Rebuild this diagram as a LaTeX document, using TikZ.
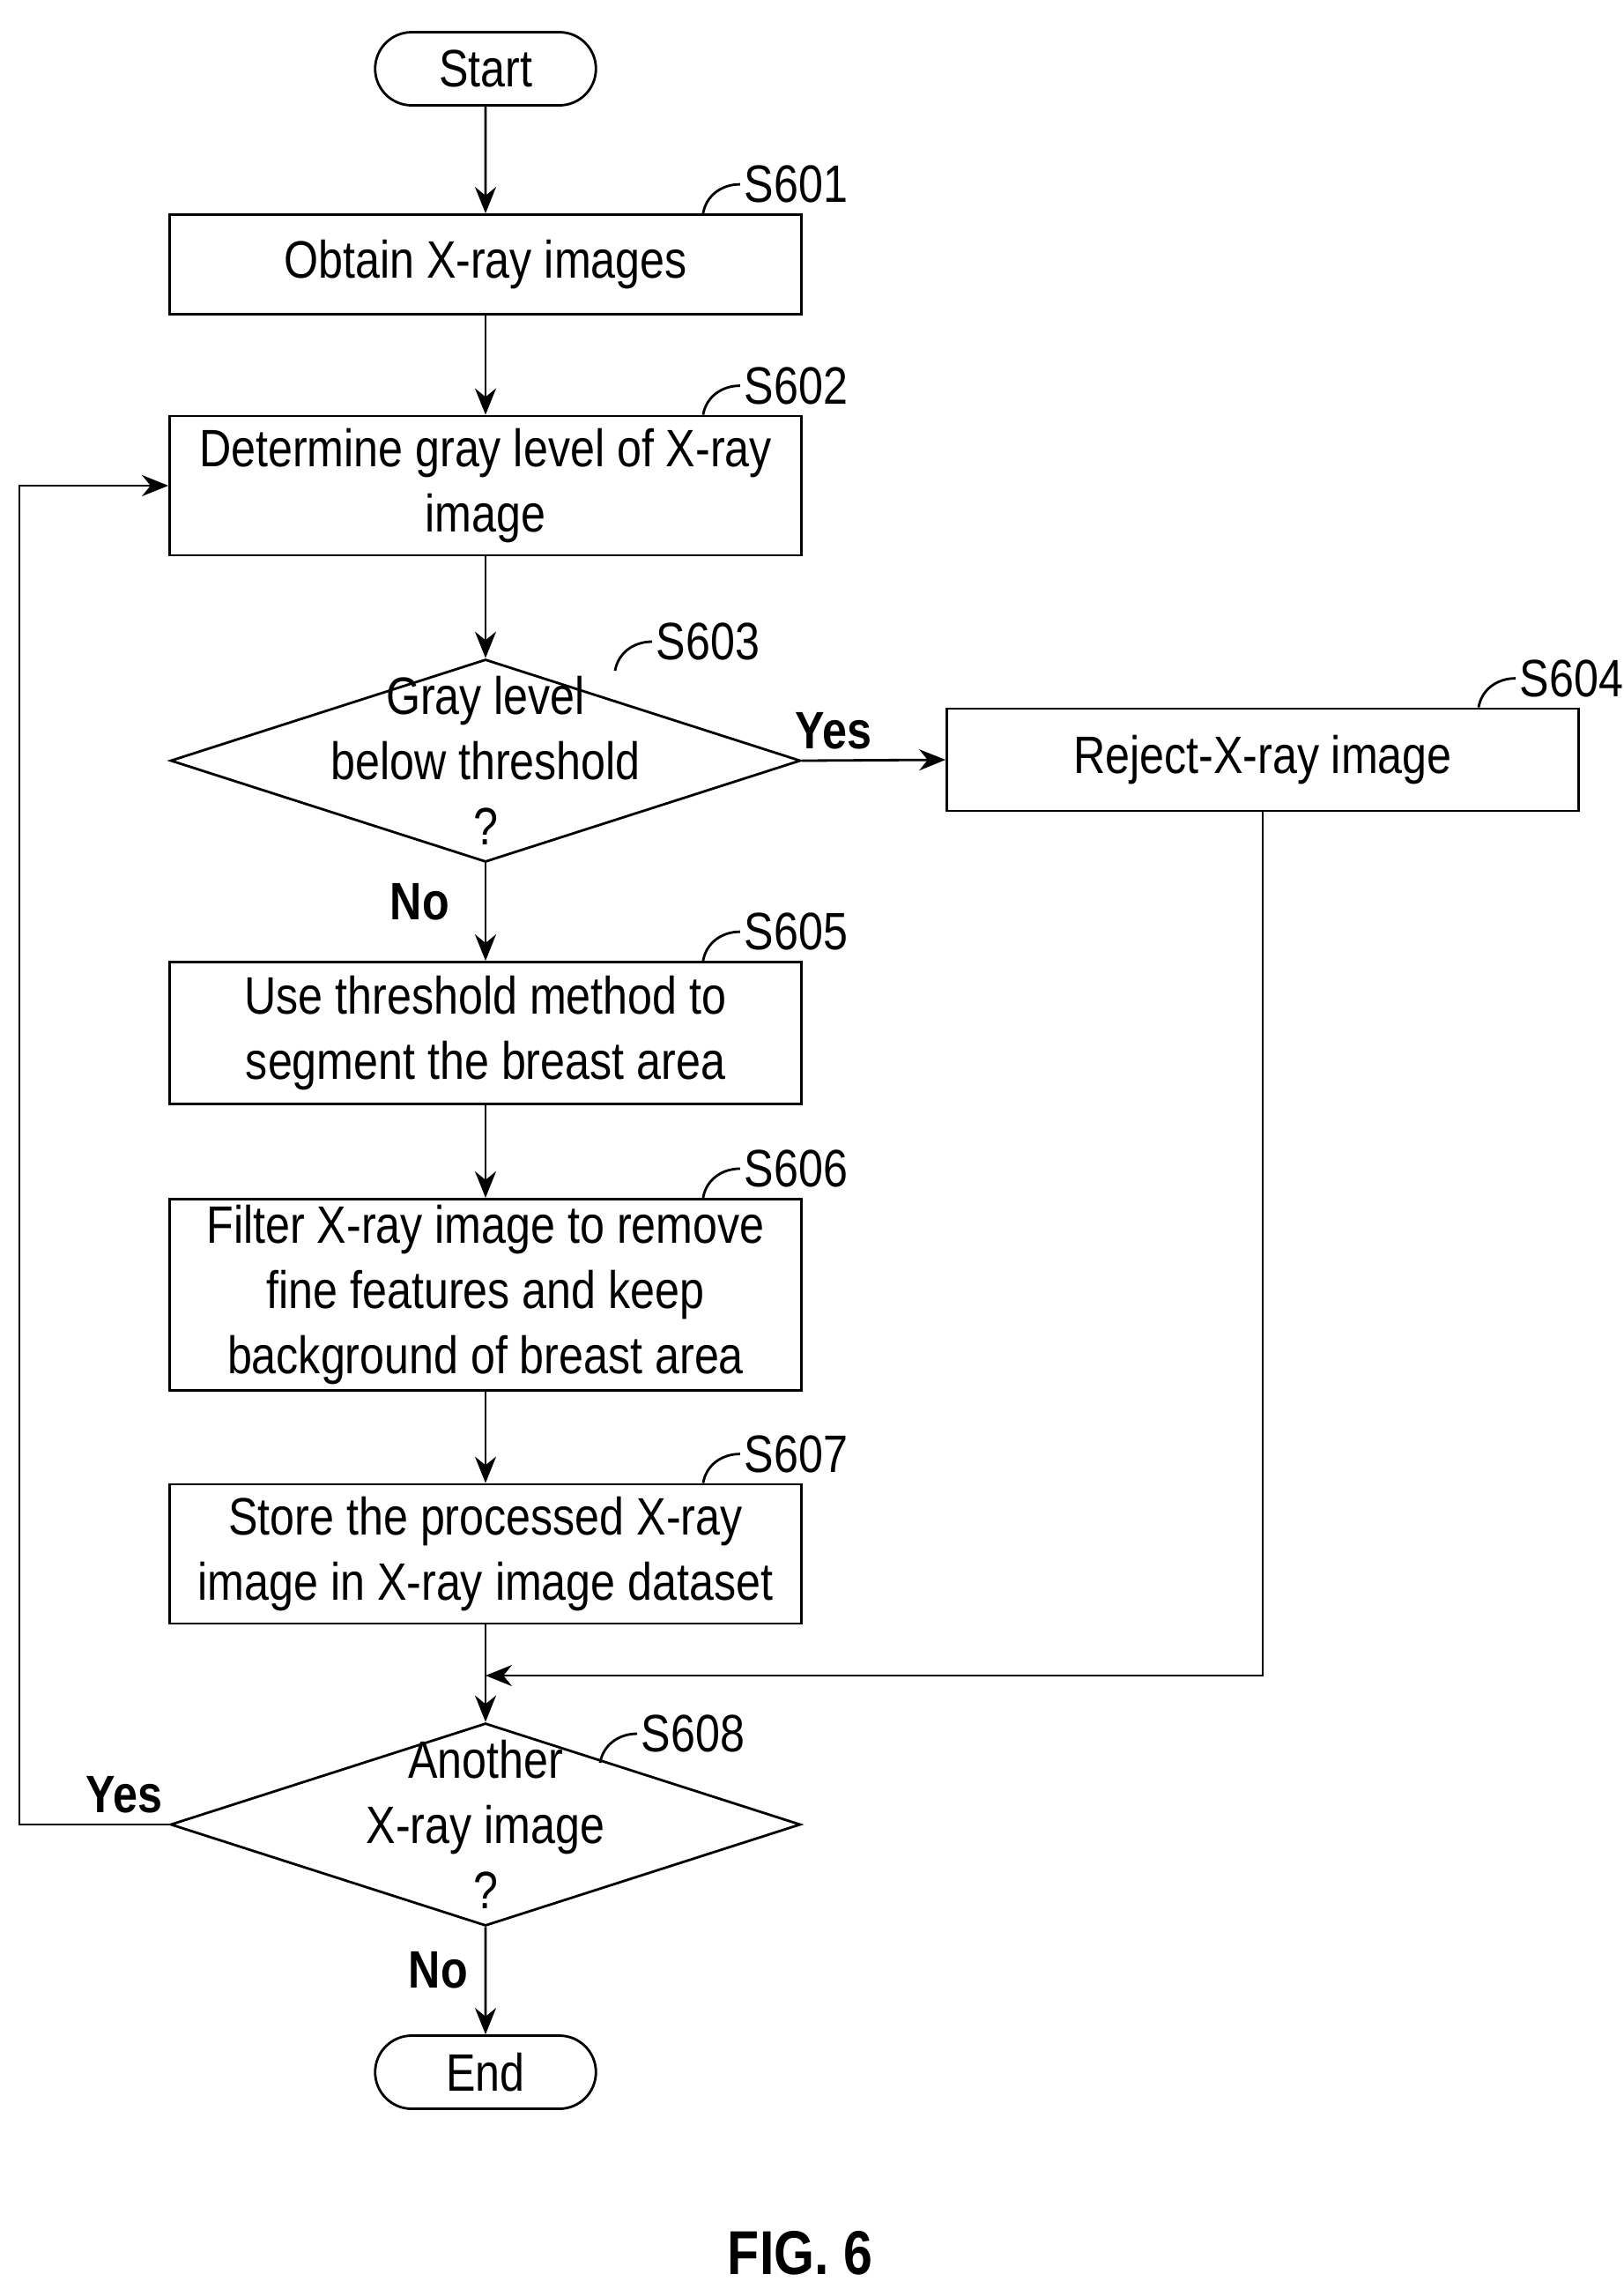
\documentclass[tikz,border=0pt]{standalone}
\usepackage{fontspec}
\setmainfont[FakeStretch=0.84]{Liberation Sans}
\usetikzlibrary{shapes.geometric,shapes.misc,arrows.meta,calc}
\begin{document}
\begin{tikzpicture}[
    every node/.style={font=\fontsize{17}{21}\selectfont},
    box/.style={draw,thick,minimum width=7.17cm,align=center,inner sep=2pt},
    term/.style={draw,thick,rounded rectangle,minimum width=2.74cm,minimum height=0.83cm},
    dec/.style={draw,thick,diamond,minimum width=7.15cm,minimum height=2.3cm,inner sep=0pt},
    yn/.style={font=\fontsize{17}{21}\selectfont\bfseries},
    arr/.style={thick,-{Stealth[length=3mm,width=2.4mm]}}]
  \useasboundingbox (0,0) rectangle (18.43,-25.97);
  \newcommand{\stepnum}[2]{\draw[thick] (#1) to[out=80,in=180] ++(0.42,0.33)
    node[right,inner sep=1pt] {#2};}
  % nodes
  \node[term] (start) at (5.51,-0.78) {Start};
  \node[box,minimum height=1.13cm] (obtain) at (5.51,-3.00) {Obtain X-ray images};
  \node[box,minimum height=1.58cm] (gray) at (5.51,-5.51) {Determine gray level of X-ray\\image};
  \node[dec] (below) at (5.51,-8.63) {};
  \node[align=center] (belowtxt) at (below) {Gray level\\below threshold\\?};
  \node[box,minimum height=1.16cm] (reject) at (14.33,-8.62) {Reject-X-ray image};
  \node[box,minimum height=1.61cm] (segment) at (5.51,-11.72) {Use threshold method to\\segment the breast area};
  \node[box,minimum height=2.01cm] (filter) at (5.51,-14.69) {Filter X-ray image to remove\\fine features and keep\\background of breast area};
  \node[box,minimum height=1.58cm] (store) at (5.51,-17.63) {Store the processed X-ray\\image in X-ray image dataset};
  \coordinate (merge) at (5.51,-19.01);
  \node[dec] (another) at (5.51,-20.70) {};
  \node[align=center] (anothertxt) at (another) {Another\\X-ray image\\?};
  \node[term] (end) at (5.51,-23.51) {End};
  \node[font=\fontsize{20}{24}\selectfont\bfseries] (fig) at (9.08,-25.56) {FIG. 6};
  % step numbers
  \stepnum{$(obtain.north east)+(-1.13,0)$}{S601}
  \stepnum{$(gray.north east)+(-1.13,0)$}{S602}
  \stepnum{$(below.center)+(1.47,1.02)$}{S603}
  \stepnum{$(reject.north east)+(-1.15,0)$}{S604}
  \stepnum{$(segment.north east)+(-1.13,0)$}{S605}
  \stepnum{$(filter.north east)+(-1.13,0)$}{S606}
  \stepnum{$(store.north east)+(-1.13,0)$}{S607}
  \stepnum{$(another.center)+(1.30,0.70)$}{S608}
  % connectors
  \draw[arr] (start) -- (obtain);
  \draw[arr] (obtain) -- (gray);
  \draw[arr] (gray) -- (below);
  \draw[arr] (below.east) -- node[yn,above,pos=0.22] {Yes} (reject.west);
  \draw[arr] (below.south) -- node[yn,left,pos=0.4,xshift=-8pt] {No} (segment);
  \draw[arr] (segment) -- (filter);
  \draw[arr] (filter) -- (store);
  \draw[thick] (store.south) -- (merge);
  \draw[arr] (reject.south) |- (merge);
  \draw[arr] (merge) -- (another.north);
  \draw[arr] (another.west) -- node[yn,above,pos=0.3] {Yes} (0.22,-20.70) |- (gray.west);
  \draw[arr] (another.south) -- node[yn,left,pos=0.4,xshift=-2pt] {No} (end);
\end{tikzpicture}
\end{document}
